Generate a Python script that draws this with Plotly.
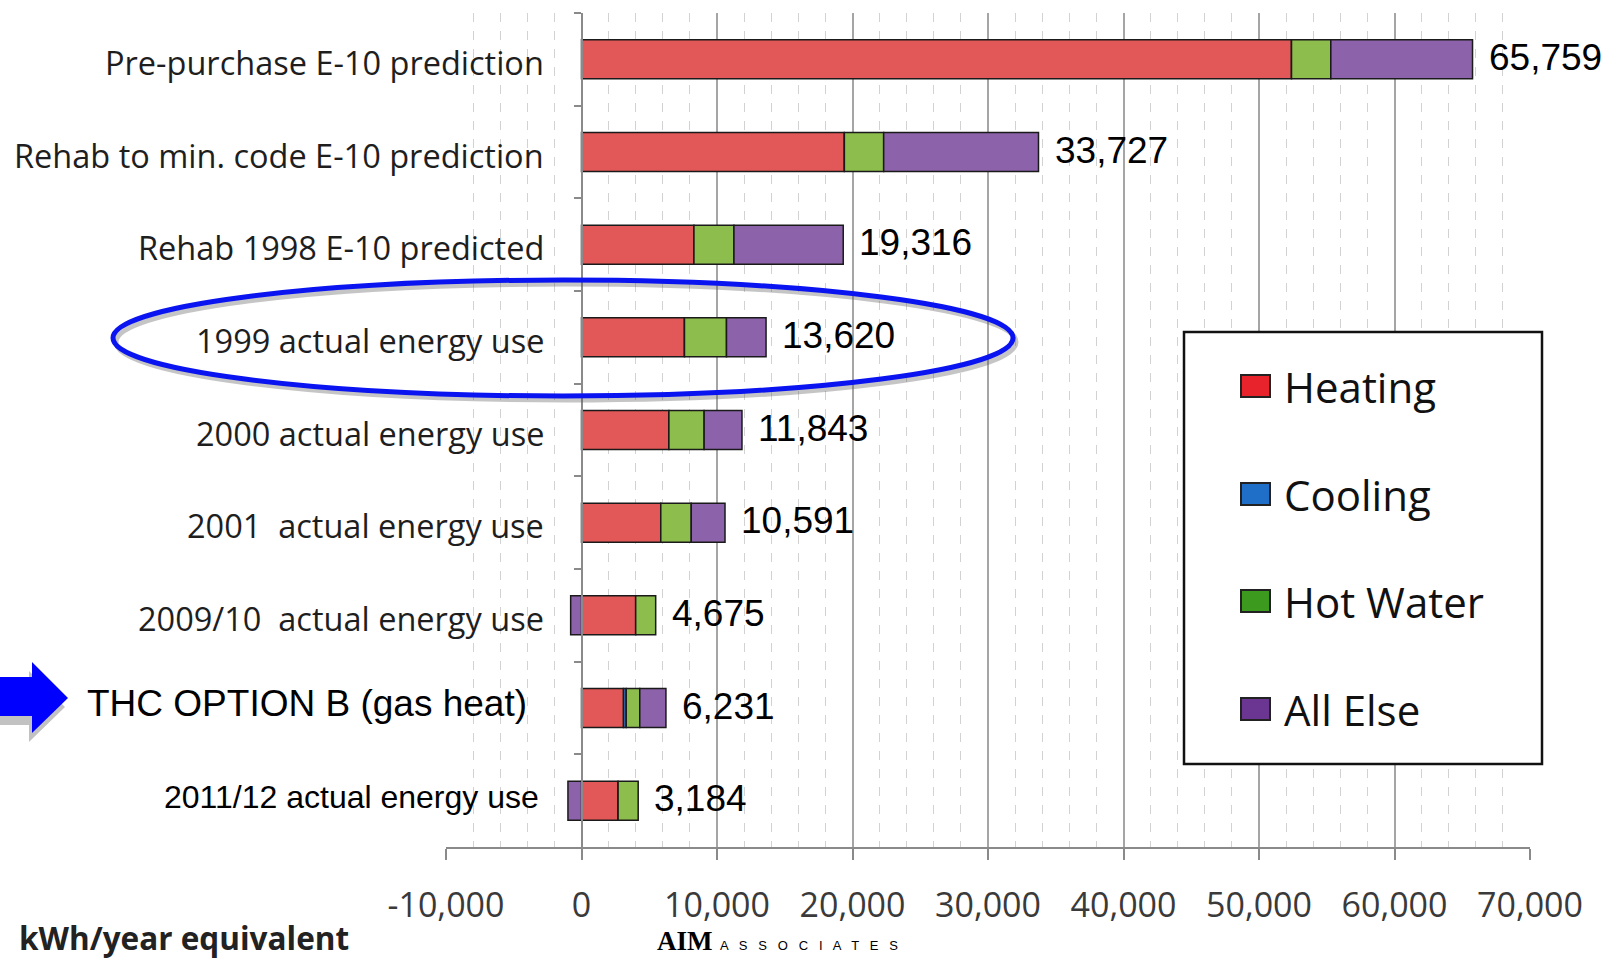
import plotly.graph_objects as go

# ---- data -------------------------------------------------------------
categories = [
    "Pre-purchase E-10 prediction",
    "Rehab to min. code E-10 prediction",
    "Rehab 1998 E-10 predicted",
    "1999 actual energy use",
    "2000 actual energy use",
    "2001  actual energy use",
    "2009/10  actual energy use",
    "THC OPTION B (gas heat)",
    "2011/12 actual energy use",
]
heating = [52400, 19400, 8300, 7600, 6450, 5850, 4000, 3100, 2700]
cooling = [0, 0, 0, 0, 0, 0, 0, 200, 0]
hot_water = [2900, 2900, 2950, 3100, 2600, 2250, 1475, 1000, 1484]
all_else = [10459, 11427, 8066, 2920, 2793, 2491, -800, 1931, -1000]

x_tickvals = [-10000, 0, 10000, 20000, 30000, 40000, 50000, 60000, 70000]
x_ticktext = ["-10,000", "0", "10,000", "20,000", "30,000", "40,000",
              "50,000", "60,000", "70,000"]

series = [
    ("Heating", heating, "#E25757"),
    ("Cooling", cooling, "#3B7BC8"),
    ("Hot Water", hot_water, "#8DBD4C"),
    ("All Else", all_else, "#8C63AA"),
]
legend_swatch = {"Heating": "#E8232B", "Cooling": "#1F6FC8",
                 "Hot Water": "#3C9A1E", "All Else": "#6B3592"}

# ---- page geometry (pixels) ------------------------------------------
W, H = 1612, 958
L, R, T, B = 446, 1530, 13, 847


def px(xp):
    return (xp - L) / (R - L)


def py(yp):
    return (B - yp) / (B - T)


fig = go.Figure()
for name, vals, color in series:
    fig.add_trace(go.Bar(
        y=categories, x=vals, name=name, orientation="h",
        marker=dict(color=color, line=dict(color="#1a1a1a", width=1.5)),
        hoverinfo="x+name",
    ))

label_font = dict(family="Open Sans", size=32.5, color="#1e1e1e")
annotations = []

# category labels
for i, cat in enumerate(categories[:7]):
    annotations.append(dict(
        text=cat, xref="paper", yref="y", x=px(546), y=cat,
        xanchor="right", yanchor="middle", showarrow=False, yshift=-3,
        font=label_font))
annotations.append(dict(
    text=categories[7], xref="paper", yref="y", x=px(85), y=categories[7],
    xanchor="left", yanchor="middle", showarrow=False, yshift=5,
    font=dict(family="Liberation Sans", size=37, color="#000")))
annotations.append(dict(
    text=categories[8], xref="paper", yref="y", x=px(541), y=categories[8],
    xanchor="right", yanchor="middle", showarrow=False, yshift=4,
    font=dict(family="Liberation Sans", size=32, color="#000")))

# totals at the end of each bar
for i, cat in enumerate(categories):
    parts = [heating[i], cooling[i], hot_water[i], all_else[i]]
    total = sum(parts)
    pos_end = sum(v for v in parts if v > 0)
    annotations.append(dict(
        text=f"{total:,}", xref="x", yref="y", x=pos_end, y=cat,
        xanchor="left", yanchor="middle", showarrow=False, xshift=14,
        yshift=2, font=dict(family="Liberation Sans", size=37, color="#000")))

# axis unit label and logo
annotations.append(dict(
    text="<b>kWh/year equivalent</b>", xref="paper", yref="paper",
    x=px(17), y=py(937), xanchor="left", yanchor="middle", showarrow=False,
    font=dict(family="Open Sans", size=31.5, color="#222")))
annotations.append(dict(
    text="<b>AIM</b>", xref="paper", yref="paper", x=px(655), y=py(941),
    xanchor="left", yanchor="middle", showarrow=False,
    font=dict(family="Liberation Serif", size=27, color="#000")))
annotations.append(dict(
    text="A   S   S   O   C   I   A   T   E   S", xref="paper",
    yref="paper", x=px(718), y=py(946), xanchor="left", yanchor="middle",
    showarrow=False,
    font=dict(family="Liberation Sans", size=13, color="#000")))

shapes = []

# white panels behind the two overlay labels
shapes.append(dict(type="rect", xref="paper", yref="paper",
                   x0=px(60), x1=px(578), y0=py(732), y1=py(667),
                   fillcolor="white", line=dict(width=0), layer="between"))
shapes.append(dict(type="rect", xref="paper", yref="paper",
                   x0=px(150), x1=px(566), y0=py(845), y1=py(776),
                   fillcolor="white", line=dict(width=0), layer="between"))

# legend box
shapes.append(dict(type="rect", xref="paper", yref="paper",
                   x0=px(1184), x1=px(1542), y0=py(764), y1=py(332),
                   fillcolor="white", line=dict(color="#111", width=2.5),
                   layer="above"))
legend_rows = [("Heating", 386), ("Cooling", 494), ("Hot Water", 601),
               ("All Else", 709)]
for name, yc in legend_rows:
    shapes.append(dict(type="rect", xref="paper", yref="paper",
                       x0=px(1241), x1=px(1270), y0=py(yc + 11),
                       y1=py(yc - 11), fillcolor=legend_swatch[name],
                       line=dict(color="#222", width=2), layer="above"))
    annotations.append(dict(
        text=name, xref="paper", yref="paper", x=px(1282), y=py(yc),
        xanchor="left", yanchor="middle", showarrow=False,
        font=dict(family="Open Sans", size=42, color="#111")))

# highlight ellipse around the 1999 row
cx, cy, rx, ry = 563, 338, 450, 58
shapes.append(dict(type="circle", xref="paper", yref="paper",
                   x0=px(cx - rx + 3), x1=px(cx + rx + 3),
                   y0=py(cy + ry + 4), y1=py(cy - ry + 4),
                   line=dict(color="rgba(90,90,90,0.35)", width=5),
                   layer="above"))
shapes.append(dict(type="circle", xref="paper", yref="paper",
                   x0=px(cx - rx), x1=px(cx + rx),
                   y0=py(cy + ry), y1=py(cy - ry),
                   line=dict(color="#0a14F0", width=5), layer="above"))

# pointer arrow next to the option-B row


def arrow_path(dx, dy):
    pts = [(0, 677), (32, 677), (32, 662), (68, 698), (32, 733),
           (32, 716), (0, 716)]
    coords = [f"{px(x + dx):.5f},{py(y + dy):.5f}" for x, y in pts]
    return "M" + " L".join(coords) + " Z"


shapes.append(dict(type="path", xref="paper", yref="paper",
                   path=arrow_path(-3, 9), fillcolor="rgba(120,120,120,0.45)",
                   line=dict(width=0), layer="above"))
shapes.append(dict(type="path", xref="paper", yref="paper",
                   path=arrow_path(0, 0), fillcolor="#0000FF",
                   line=dict(width=0), layer="above"))

fig.update_layout(
    width=W, height=H,
    margin=dict(l=L, r=W - R, t=T, b=H - B, pad=0),
    paper_bgcolor="white", plot_bgcolor="white",
    barmode="relative", bargap=0.58,
    showlegend=False,
    annotations=annotations, shapes=shapes,
    xaxis=dict(
        range=[-10000, 70000], tickvals=x_tickvals, ticktext=x_ticktext,
        showgrid=True, gridcolor="#a5a5a5", gridwidth=1.5,
        minor=dict(dtick=2000, tick0=0, showgrid=True, gridcolor="#d2d2d2",
                   griddash="dash", gridwidth=1),
        showline=True, linecolor="#8a8a8a", linewidth=1.5,
        ticks="outside", ticklen=11, tickcolor="#8a8a8a", tickwidth=1.5,
        ticklabelstandoff=16,
        tickfont=dict(family="Open Sans", size=34, color="#3a3a3a"),
        zeroline=False, fixedrange=True,
    ),
    yaxis=dict(
        autorange="reversed", showticklabels=False,
        anchor="free", position=0.125,
        showline=True, linecolor="#8a8a8a", linewidth=1.5,
        ticks="outside", tickson="boundaries", ticklen=7,
        tickcolor="#8a8a8a", tickwidth=1.5,
        showgrid=False, zeroline=False, fixedrange=True,
    ),
)

fig.write_html("out.html")
